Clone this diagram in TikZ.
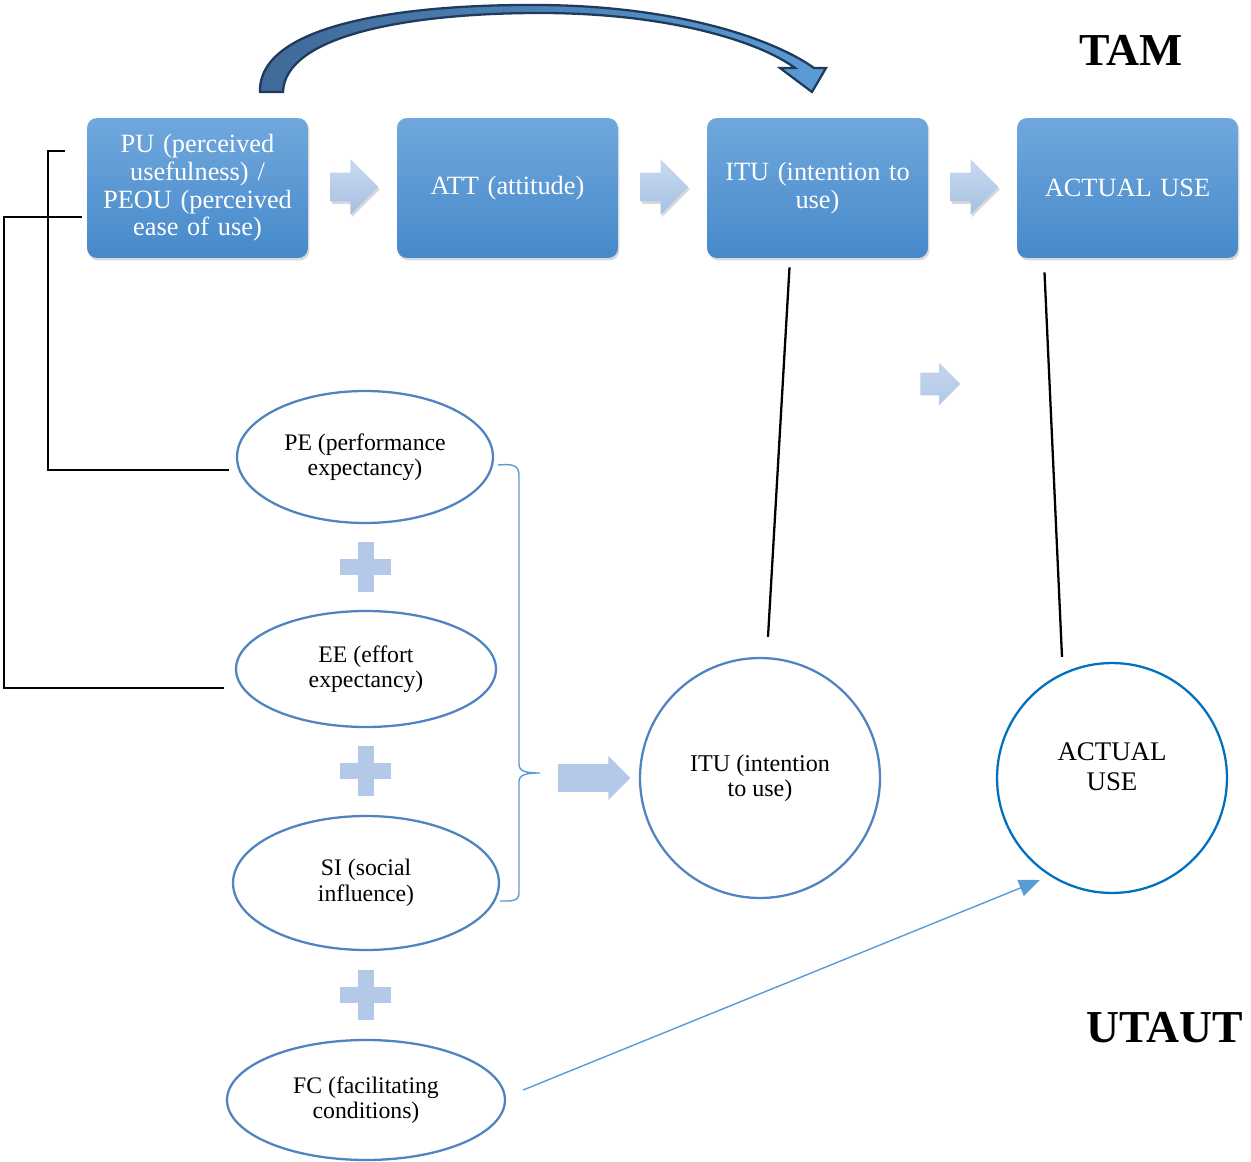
\documentclass[tikz,border=0pt]{standalone}
\usepackage{fontspec}
\setmainfont{Liberation Serif}
\usetikzlibrary{positioning, shapes, shapes.arrows, shadows, arrows.meta, calc}

\definecolor{boxtop}{HTML}{70A8DD}
\definecolor{boxbot}{HTML}{4689CA}
\definecolor{arrtop}{HTML}{C8DAF0}
\definecolor{arrbot}{HTML}{A6C0E2}
\definecolor{plusblue}{HTML}{B4C9E8}
\definecolor{elline}{HTML}{4F84C0}
\definecolor{brline}{HTML}{5B9BD5}
\definecolor{actline}{HTML}{0070C0}
\definecolor{curvefill}{HTML}{4A7CB3}
\definecolor{curveline}{HTML}{1F3A5A}

\tikzset{
    tambox/.style={rectangle, rounded corners=0.2cm, minimum width=4.42cm, minimum height=2.8cm,
        top color=boxtop, bottom color=boxbot, text=white, align=center, text width=4.0cm,
        font=\fontsize{15}{15.8}\selectfont,
        drop shadow={opacity=0.3, shadow xshift=0.8pt, shadow yshift=-1.4pt}},
    blockarr/.style={single arrow, draw=none, inner xsep=0pt, anchor=tail, top color=arrtop, bottom color=arrbot},
    rowarr/.style={blockarr, minimum height=0.96cm, inner ysep=0.28cm, single arrow head extend=0.27cm,
        drop shadow={opacity=0.3, shadow xshift=0.8pt, shadow yshift=-1.4pt}},
    factor/.style={ellipse, draw=elline, line width=1.3pt, inner sep=0pt, align=center,
        font=\fontsize{13.5}{14.5}\selectfont},
    outcome/.style={circle, draw=elline, line width=1.3pt, inner sep=0pt, align=center,
        font=\fontsize{13.7}{14.5}\selectfont},
    conn/.style={draw=black, line width=1.3pt},
    modelname/.style={font=\fontsize{26}{30}\selectfont\bfseries}
}

\begin{document}
\begin{tikzpicture}[x=0.02cm, y=-0.02cm]
    \useasboundingbox (0,0) rectangle (1251,1162);

    % TAM row
    \node[tambox] (pu) at (197.5,188) {PU (perceived\\ usefulness) /\\ PEOU (perceived\\ ease of use)};
    \node[tambox] (att) at (507.5,188) {ATT (attitude)};
    \node[tambox] (itu) at (817.5,188) {ITU (intention to\\ use)};
    \node[tambox] (use) at (1127.5,188) {ACTUAL USE};

    \node[rowarr] (a1) at (330,187) {};
    \node[rowarr] (a2) at (640,187) {};
    \node[rowarr] (a3) at (950,187) {};

    % curved arrow over the row
    \draw[draw=curveline, line width=1.3pt, left color=curvefill!85!black, right color=brline]
        (260,92) .. controls (258,25) and (400,4) .. (540,5)
        .. controls (680,6) and (775,40) .. (814,68) -- (826,68) -- (812,92) -- (780,68) -- (795,68)
        .. controls (760,42) and (670,13) .. (540,13)
        .. controls (410,13) and (285,35) .. (283,92) -- cycle;

    \node[modelname] (tam) at (1131,50) {TAM};
    \node[modelname] (utaut) at (1165,1028) {UTAUT};

    % UTAUT factors
    \node[factor, minimum width=5.12cm, minimum height=2.64cm] (pe) at (365,457) {PE (performance\\ expectancy)};
    \node[factor, minimum width=5.2cm, minimum height=2.32cm] (ee) at (366,669) {EE (effort\\ expectancy)};
    \node[factor, minimum width=5.32cm, minimum height=2.68cm] (si) at (366,883) {SI (social\\ influence)};
    \node[factor, minimum width=5.56cm, minimum height=2.4cm] (fc) at (366,1100) {FC (facilitating\\ conditions)};

    \foreach \y in {567,771,995} {
        \fill[plusblue] (358,\y-25) rectangle (374,\y+25);
        \fill[plusblue] (340,\y-8) rectangle (391,\y+8);
    }

    \node[outcome, minimum size=4.8cm] (itu2) at (760,778) {ITU (intention\\ to use)};
    \node[outcome, draw=actline, minimum size=4.6cm,
        label={[font=\fontsize{15.3}{17}\selectfont, align=center, yshift=0.22cm]center:ACTUAL\\ USE}] (act) at (1112,778) {};

    % brace and block arrows
    \draw[brline, line width=0.8pt] ([shift={(4,8)}]pe.east) .. controls (510,464) and (519,464) .. (519,475)
        -- (519,764) .. controls (519,771) and (525,773) .. (540,773)
        .. controls (525,773) and (519,775) .. (519,782) -- (519,893)
        .. controls (519,902) and (510,901) .. ([shift={(0,18)}]si.east);
    \node[blockarr, top color=plusblue, bottom color=plusblue, minimum height=1.44cm,
        inner ysep=0.27cm, single arrow head extend=0.16cm] (a4) at (558,778) {};
    \node[blockarr, top color=plusblue!80!white, bottom color=plusblue, minimum height=0.8cm,
        inner ysep=0.22cm, single arrow head extend=0.2cm] (a5) at (920,384) {};

    % links between the two models
    \draw[conn] ([shift={(-22,33)}]pu.north west) -- ++(-17,0) |- ([shift={(-7,13)}]pe.west);
    \draw[conn] ([shift={(-5,29)}]pu.west) -- ++(-78,0) |- ([shift={(-11,19)}]ee.west);
    \draw[conn] ([shift={(-28,9)}]itu.south) -- ([shift={(8,-20)}]itu2.north);
    \draw[conn] ([shift={(-83,14)}]use.south) -- ([shift={(-50,-5)}]act.north);
    \draw[brline, line width=0.8pt, -{Triangle[length=0.42cm, width=0.34cm]}] ([shift={(17,-10)}]fc.east) -- ([shift={(-72,102)}]act.center);
\end{tikzpicture}
\end{document}
